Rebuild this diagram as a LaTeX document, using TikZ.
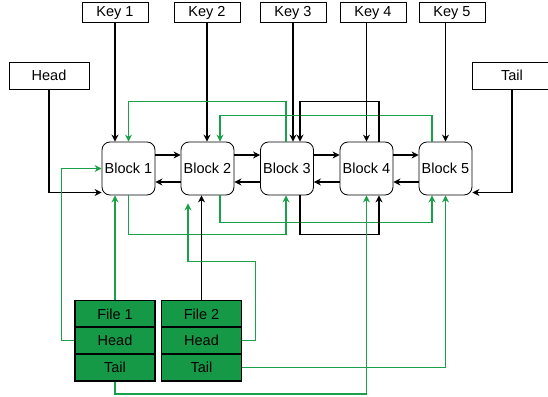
\documentclass[tikz,border=0pt]{standalone}
\usepackage{fontspec}
\setmainfont{Liberation Sans}
\usetikzlibrary{arrows.meta}

\definecolor{filegreen}{RGB}{22,153,70}
\definecolor{linkgreen}{RGB}{26,160,74}

\begin{document}
\begin{tikzpicture}[
    x=1pt, y=-1pt,
    font=\fontsize{14.5}{16}\selectfont,
    keybox/.style={rectangle, draw=black, line width=1pt, minimum width=66pt, minimum height=20pt, inner sep=0pt},
    endbox/.style={rectangle, draw=black, line width=1pt, minimum width=80pt, minimum height=27pt, inner sep=0pt},
    block/.style={rectangle, rounded corners=8pt, draw=black, line width=0.8pt, minimum size=53pt, inner sep=0pt},
    filerow/.style={rectangle, draw=black, fill=filegreen, line width=1.6pt, minimum width=80pt, minimum height=27pt, inner sep=0pt},
    arrow/.style={-{Stealth[length=7pt,width=7pt]}, line width=1.4pt},
    link/.style={arrow, color=linkgreen}
]
\useasboundingbox (0,0) rectangle (548,396);

% keys and list ends
\node[keybox] (key1) at (115,13) {Key 1};
\node[keybox] (key2) at (207,13) {Key 2};
\node[keybox] (key3) at (293,13) {Key 3};
\node[keybox] (key4) at (373,13) {Key 4};
\node[keybox] (key5) at (452,13) {Key 5};
\node[endbox] (head) at (49,75.5) {Head};
\node[endbox] (tail) at (512,75.5) {Tail};

% blocks
\node[block] (b1) at (128.5,168.5) {Block 1};
\node[block] (b2) at (207.5,168.5) {Block 2};
\node[block] (b3) at (287,168.5) {Block 3};
\node[block] (b4) at (366.5,168.5) {Block 4};
\node[block] (b5) at (445.5,168.5) {Block 5};

% files
\node[filerow] (f1) at (115,314) {File 1};
\node[filerow] (f1head) at (115,340.5) {Head};
\node[filerow] (f1tail) at (115,367.5) {Tail};
\node[filerow] (f2) at (201.5,314) {File 2};
\node[filerow] (f2head) at (201.5,340.5) {Head};
\node[filerow] (f2tail) at (201.5,367.5) {Tail};

% keys into blocks
\draw[arrow] (key1.south) -- (key1.south |- b1.north);
\draw[arrow] (key2.south) -- (key2.south |- b2.north);
\draw[arrow] (key3.south) -- (key3.south |- b3.north);
\draw[arrow] (key4.south -| b4.north) -- (b4.north);
\draw[arrow] (key5.south -| b5.north) -- (b5.north);

% next / prev links
\foreach \a/\b in {b1/b2, b2/b3, b3/b4, b4/b5} {
  \draw[arrow] ([yshift=13.5pt]\a.east) -- ([yshift=13.5pt]\b.west);
  \draw[arrow] ([yshift=-13.5pt]\b.west) -- ([yshift=-13.5pt]\a.east);
}

\draw[arrow] (head.south) |- ([yshift=-24pt]b1.west);
\draw[arrow] (tail.south) |- ([yshift=-24pt]b5.east);

% skip links above
\draw[link] ([xshift=-1pt]b3.north) -- ++(0,-40) -| (b1.north);
\draw[link] ([xshift=-13.5pt]b5.north) -- ++(0,-26) -| ([xshift=12.5pt]b2.north);
\draw[arrow] ([xshift=12.5pt]b4.north) -- ++(0,-40) -| ([xshift=13pt]b3.north);

% skip links below
\draw[link] (b1.south) -- ++(0,39) -| ([xshift=-1pt]b3.south);
\draw[link] ([xshift=12.5pt]b2.south) -- ++(0,27) -| ([xshift=-13.5pt]b5.south);
\draw[arrow] ([xshift=13pt]b3.south) -- ++(0,39) -| ([xshift=12.5pt]b4.south);

% files into blocks
\draw[link] (f1.north) -- (f1.north |- b1.south);
\draw[link] (f1head.west) -- ++(-13,0) |- (b1.west);
\draw[link] (f1tail.south) -- ++(0,12) -| (b4.south);
\draw[arrow] (f2.north) -- (f2.north |- b2.south);
\draw[link] (f2head.east) -- ++(13,0) |- ([xshift=-19.5pt,yshift=-66pt]b2.south)
  -- ([xshift=-19.5pt,yshift=-8pt]b2.south);
\draw[link] (f2tail.east) -| (b5.south);

\end{tikzpicture}
\end{document}
